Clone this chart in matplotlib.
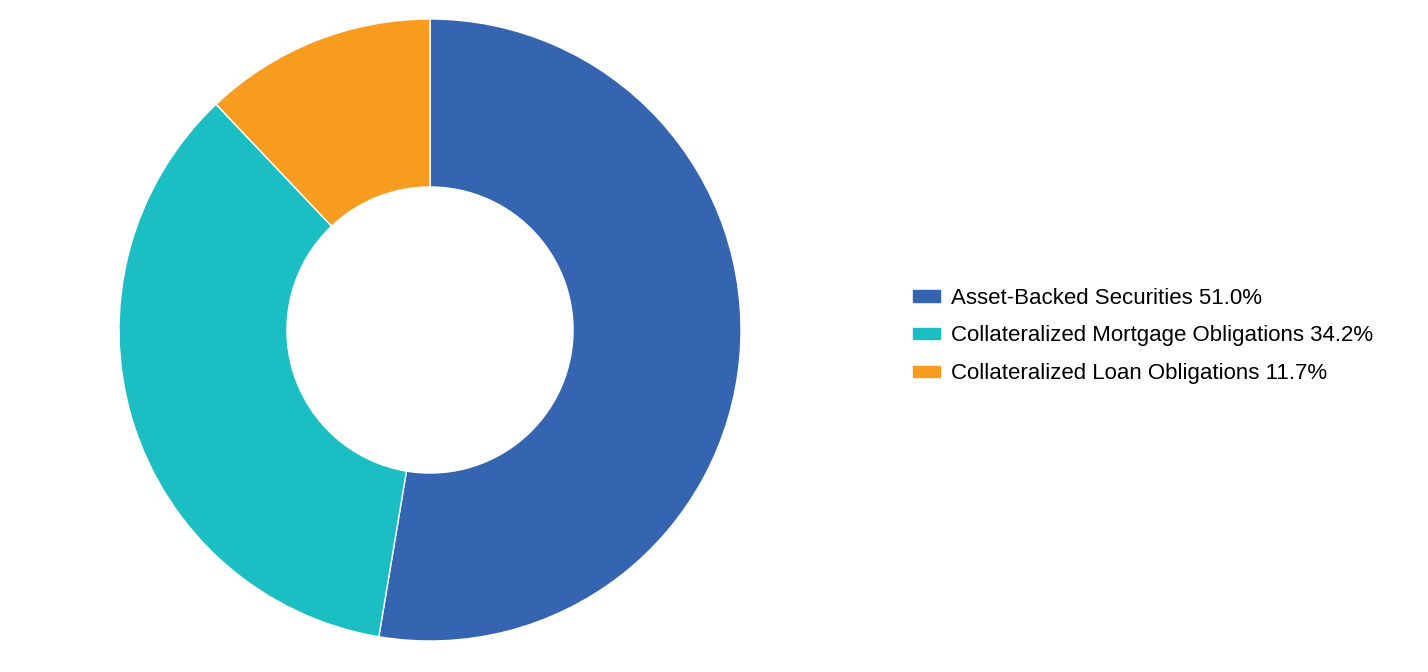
import matplotlib
matplotlib.use("Agg")
import matplotlib.pyplot as plt
from matplotlib.patches import Rectangle

labels = ["Asset-Backed Securities", "Collateralized Mortgage Obligations", "Collateralized Loan Obligations"]
values = [51.0, 34.2, 11.7]
colors = ["#3565b0", "#1bbec2", "#f89c20"]

plt.rcParams['font.family'] = ['Liberation Sans', 'DejaVu Sans']
fig = plt.figure(figsize=(14.28, 6.72), dpi=100)
ax = fig.add_axes([119/1428, 31/672, 622/1428, 622/672])
ax.pie(values, colors=colors, startangle=90, counterclock=False, radius=1,
       wedgeprops=dict(width=0.54, edgecolor='white', linewidth=1))
ax.set_xlim(-1, 1); ax.set_ylim(-1, 1); ax.set_aspect('equal')

handles = [Rectangle((0, 0), 1, 1, color=c) for c in colors]
texts = [f"{l} {v:.1f}%" for l, v in zip(labels, values)]
fig.legend(handles, texts, loc='center left', bbox_to_anchor=(893/1428, 0.5),
           frameon=False, fontsize=16, handlelength=1.2, handleheight=0.4,
           handletextpad=0.5, labelspacing=0.75)
fig.savefig("out.png", dpi=100)
